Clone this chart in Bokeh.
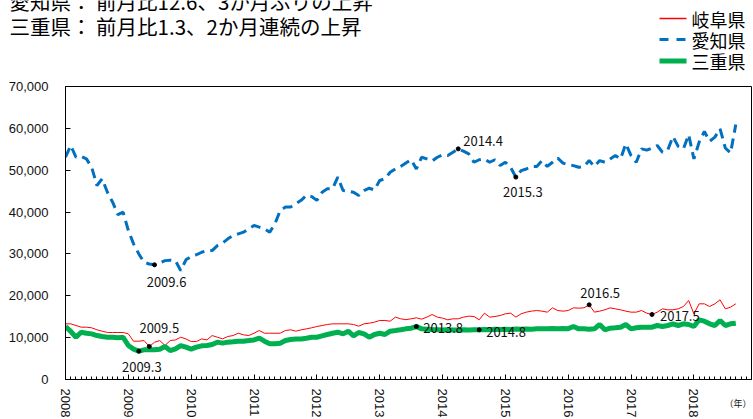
from bokeh.plotting import figure
from bokeh.models import Plot, Range1d, FixedTicker, NumeralTickFormatter, Label
from bokeh.layouts import column
from bokeh.embed import file_html
from bokeh.resources import INLINE

# ---------------- data (monthly, Jan 2008 - Sep 2018) ----------------
years = ["2008", "2009", "2010", "2011", "2012", "2013", "2014", "2015", "2016", "2017", "2018"]

aichi = [
    53100, 55900, 53100, 53300, 52700, 50700, 46350, 47950, 44750, 42360, 39400, 39970,
    35600, 32400, 30000, 28000, 27600, 27400, 27800, 28400, 28500, 28400, 26000, 28600,
    29400, 29800, 30400, 30800, 30800, 32000, 32600, 33600, 34400, 34800, 35200, 36000,
    36800, 36400, 36000, 35200, 37200, 40400, 41200, 41200, 42000, 42800, 44000, 43700,
    42800, 44750, 45550, 45550, 48350, 45150, 45000, 44750, 43950, 45150, 45700, 45300,
    47550, 47950, 49500, 50300, 50900, 51700, 52500, 50300, 53100, 52700, 52200, 53100,
    53700, 53500, 54300, 55100, 54550, 53900, 51900, 52500, 52700, 51900, 52500, 51100,
    51900, 50700, 48350, 49900, 50300, 50900, 50900, 52300, 50900, 51900, 52900, 51700,
    51300, 51100, 50700, 50900, 52300, 50900, 52300, 51900, 52700, 53500, 52700, 56300,
    53500, 51900, 55100, 54800, 55300, 55900, 54300, 54800, 58050, 55700, 55100, 58500,
    52700, 56700, 59250, 56900, 57900, 59900, 55300, 54100, 60900,
]

gifu = [
    13300, 13300, 12900, 12500, 12500, 12350, 11870, 11540, 11230, 11230, 11230, 11230,
    10900, 9150, 9150, 9300, 7880, 8900, 9300, 8120, 9300, 9460, 10100, 9700,
    9070, 9070, 9700, 9460, 10500, 10100, 9700, 10270, 10500, 11060, 10670, 10500,
    11060, 11700, 11060, 11060, 11060, 11060, 11700, 11870, 11540, 11870, 12100, 12350,
    12660, 12900, 13140, 13300, 13300, 13300, 13300, 13140, 12740, 13300, 13460, 13700,
    14100, 14100, 13930, 14900, 14500, 14300, 14500, 14740, 14420, 14900, 15530, 14900,
    14660, 14260, 14500, 14500, 14900, 15130, 15050, 14260, 15850, 14900, 15050, 15290,
    15690, 15850, 14900, 15690, 16090, 16330, 16480, 16330, 16090, 17120, 16480, 16330,
    16480, 17120, 17040, 17120, 17840, 16090, 16330, 16650, 17120, 16880, 16650, 16330,
    16090, 16090, 16480, 15850, 15530, 16090, 16880, 16650, 16650, 16880, 17440, 18870,
    15690, 18080, 18080, 17440, 18080, 19040, 16880, 17280, 18080,
]

mie = [
    12660, 11500, 10100, 11300, 11060, 10900, 10500, 10270, 10100, 10100, 9950, 10100,
    8120, 7250, 6770, 7090, 7090, 7090, 7250, 7880, 6900, 7330, 8120, 7720,
    7250, 7720, 8040, 8120, 8360, 8920, 8680, 8920, 9000, 9150, 9150, 9300,
    9460, 9870, 9150, 8520, 8520, 8680, 9300, 9540, 9700, 9700, 9870, 10100,
    10100, 10430, 10750, 11060, 11300, 10900, 11540, 10430, 11230, 10900, 10100, 10750,
    11060, 10750, 11540, 11700, 11870, 12100, 12260, 12660, 12100, 12030, 11950, 11900,
    11850, 11900, 11800, 11850, 11900, 11850, 11900, 11870, 11950, 11900, 12000, 11950,
    12000, 11950, 12050, 12000, 12050, 12000, 12100, 12150, 12100, 12200, 12150, 12200,
    12150, 12660, 12100, 12100, 12030, 12100, 13140, 11870, 12260, 12350, 12500, 13140,
    12100, 12350, 12500, 12500, 12500, 12900, 12660, 12900, 13300, 12900, 13300, 13140,
    12660, 14260, 13930, 13300, 12900, 14100, 12900, 13300, 13460,
]

series_names = ["岐阜県", "愛知県", "三重県"]
series_colors = ["#FF0000", "#0070C0", "#00B050"]
title_lines = ["愛知県： 前月比12.6、3か月ぶりの上昇", "三重県： 前月比1.3、2か月連続の上昇"]
unit_label = "（年）"
y_ticks = [0, 10000, 20000, 30000, 40000, 50000, 60000, 70000]

# annotated points: (label, series, dx, dy, align)
notes = [
    ("2009.6", "aichi", 12, -17, "center"),
    ("2009.5", "gifu", 10, 19, "center"),
    ("2009.3", "mie", 3, -16, "center"),
    ("2013.8", "mie", 7, -1, "left"),
    ("2014.8", "mie", 7, -2, "left"),
    ("2014.4", "aichi", 5, 8, "left"),
    ("2015.3", "aichi", 7, -15, "center"),
    ("2016.5", "gifu", 11, 12, "center"),
    ("2017.5", "gifu", 8, -2, "left"),
]

JP = "Noto Sans CJK JP"
AX = "Liberation Sans"
W = 753
HEAD_H = 78
MAIN_H = 341
CAN_ALIGN = "frame_align" in Plot.properties()

# ---------------- header (titles + legend), 1 data unit = 1 px ----------------
head = figure(width=W, height=HEAD_H, output_backend="svg", toolbar_location=None, title=None,
              x_range=Range1d(0, W), y_range=Range1d(HEAD_H, 0),
              x_axis_location=None, y_axis_location=None,
              min_border_left=0, min_border_right=0, min_border_top=0, min_border_bottom=0)
head.outline_line_color = None
head.background_fill_color = "white"
head.border_fill_color = "white"
head.xgrid.visible = False
head.ygrid.visible = False
if CAN_ALIGN:
    head.frame_align = False

TITLE_X, TITLE_Y = 9, [0, 25]
for txt, ty in zip(title_lines, TITLE_Y):
    head.add_layout(Label(x=TITLE_X, y=ty, text=txt, text_align="left", text_baseline="middle",
                          text_font=JP, text_font_size="20.5px", text_color="black"))

# legend: key line + label per series
KEY_X0, KEY_X1, KEY_TX = 659, 686, 691
KEY_ROWS = [18, 39, 60.5]
key_styles = [dict(line_width=1.5), dict(line_width=3, line_dash="9 8"), dict(line_width=5)]
for name, col, row, st in zip(series_names, series_colors, KEY_ROWS, key_styles):
    head.line([KEY_X0, KEY_X1], [row, row], line_color=col, **st)
    head.add_layout(Label(x=KEY_TX, y=row, text=name, text_align="left", text_baseline="middle",
                          text_font=JP, text_font_size="18px", text_color="black"))

# ---------------- main chart ----------------
months = list(range(len(aichi)))
data = {"aichi": aichi, "gifu": gifu, "mie": mie}

p = figure(width=W, height=MAIN_H, output_backend="svg", toolbar_location=None, title=None,
           x_range=Range1d(0, 131), y_range=Range1d(0, 70000),
           min_border_left=65, min_border_right=2, min_border_top=8, min_border_bottom=40)
p.background_fill_color = "white"
p.border_fill_color = "white"
p.outline_line_color = "black"
p.outline_line_width = 1
p.xgrid.visible = False
p.ygrid.visible = False
if CAN_ALIGN:
    p.frame_align = False

major = [i * 12 for i in range(len(years))]
p.xaxis.ticker = FixedTicker(ticks=major, minor_ticks=list(range(0, 132)))
p.xaxis.major_label_overrides = {m: y for m, y in zip(major, years)}
p.xaxis.major_label_orientation = "vertical"
p.xaxis.major_tick_in = 5
p.xaxis.major_tick_out = 0
p.xaxis.minor_tick_in = 3
p.xaxis.minor_tick_out = 0
p.xaxis.major_label_standoff = 9
p.xaxis.minor_tick_line_color = "black"
p.xaxis.axis_label = unit_label
p.xaxis.axis_label_align = "end"
p.xaxis.axis_label_orientation = 0.0001
p.xaxis.axis_label_standoff = -17
p.xaxis.axis_label_text_font = JP
p.xaxis.axis_label_text_font_size = "9px"
p.xaxis.axis_label_text_font_style = "normal"
p.xaxis.axis_label_text_color = "#111111"

p.yaxis.ticker = FixedTicker(ticks=y_ticks)
p.yaxis.formatter = NumeralTickFormatter(format="0,0")
p.yaxis.major_tick_in = 5
p.yaxis.major_tick_out = 0
p.yaxis.minor_tick_line_color = None
p.yaxis.major_label_standoff = 17

for ax in (p.xaxis, p.yaxis):
    ax.axis_line_color = "black"
    ax.major_tick_line_color = "black"
    ax.major_label_text_font = AX
    ax.major_label_text_font_size = "13px"
    ax.major_label_text_color = "#111111"

p.line(months, gifu, line_color=series_colors[0], line_width=1)
p.line(months, aichi, line_color=series_colors[1], line_width=3, line_dash="10 6")
p.line(months, mie, line_color=series_colors[2], line_width=5)

nx, ny = [], []
for lab, ser, dx, dy, al in notes:
    yr, mo = lab.split(".")
    m = (int(yr) - 2008) * 12 + int(mo) - 1
    v = data[ser][m]
    nx.append(m)
    ny.append(v)
    p.add_layout(Label(x=m, y=v, x_offset=dx, y_offset=dy, text=lab, text_align=al,
                       text_baseline="middle", text_font=JP, text_font_size="13px",
                       text_color="#111111"))
p.scatter(nx, ny, size=4, color="black")

layout = column(head, p, spacing=0)
open("out.html", "w").write(file_html(layout, INLINE))
